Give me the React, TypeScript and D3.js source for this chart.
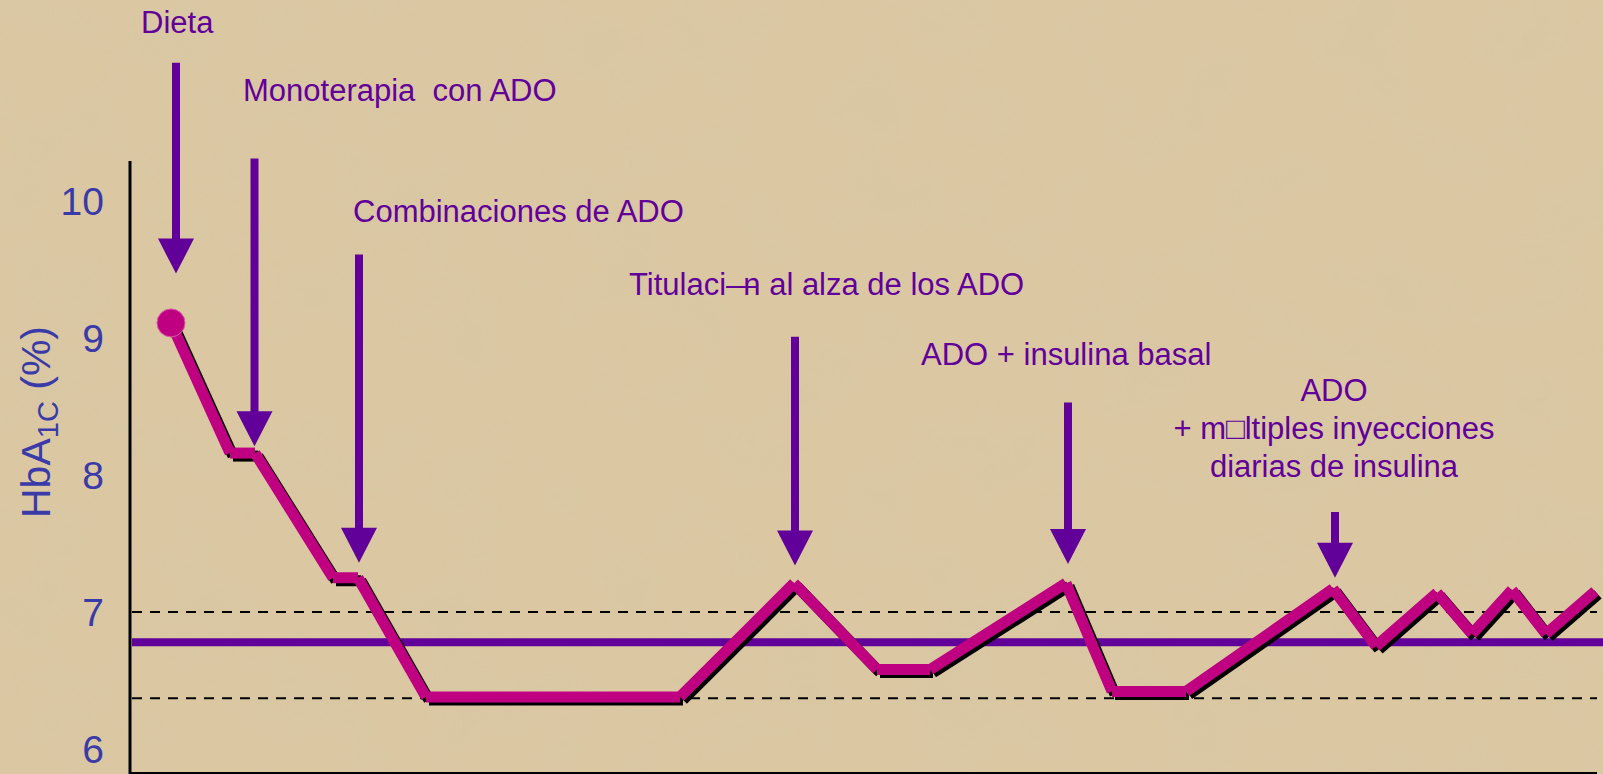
import React from 'react';
import * as d3 from 'd3';

// HbA1c course over time (arbitrary time units)
const times = [4.1, 10.0, 12.5, 20.3, 22.8, 29.6, 55.0, 66.4, 74.7, 80.0, 93.6, 98.2, 105.6, 120.3, 124.6, 130.7, 134.2, 138.2, 141.6, 146.5];
const hba1c = [9.11, 8.16, 8.16, 7.25, 7.25, 6.38, 6.38, 7.21, 6.58, 6.58, 7.21, 6.42, 6.42, 7.17, 6.75, 7.14, 6.84, 7.16, 6.84, 7.15];

const yTicks = [6, 7, 8, 9, 10];
const dashedLevels = [7, 6.37];
const targetLevel = 6.78;

// treatment steps
const stepLabels = [
  ['Dieta'],
  ['Monoterapia  con ADO'],
  ['Combinaciones de ADO'],
  ['Titulaci—n al alza de los ADO'],
  ['ADO + insulina basal'],
  ['ADO', '+ m□ltiples inyecciones', 'diarias de insulina'],
];
const arrowTimes = [4.6, 12.45, 22.9, 66.5, 93.8, 120.5];
const arrowTops = [11.01, 10.31, 9.61, 9.01, 8.53, 7.73];
const arrowTips = [9.47, 8.21, 7.36, 7.34, 7.35, 7.25];

// where each label sits (px)
const labelPos = [
  { x: 141, y: 33, anchor: 'start' },
  { x: 243, y: 101, anchor: 'start' },
  { x: 353, y: 222, anchor: 'start' },
  { x: 629, y: 295, anchor: 'start' },
  { x: 921, y: 365, anchor: 'start' },
  { x: 1334, y: 401, anchor: 'middle' },
];

const W = 1603;
const H = 774;
const FONT = '"Liberation Sans", Arial, sans-serif';
const MAGENTA = '#bf0080';
const PURPLE = '#62009a';
const BLUE = '#3a3aa8';

const x = d3.scaleLinear().domain([0, 147.3]).range([130, W]);
const y = d3.scaleLinear().domain([7, 10]).range([612, 201]);

function Label({ lines, pos }) {
  return (
    <text x={pos.x} y={pos.y} textAnchor={pos.anchor} fill={PURPLE}
      fontFamily={FONT} fontSize={31} style={{ whiteSpace: 'pre' }}>
      {lines.map((l, i) => {
        if (l.includes('—')) {
          // the original shows a broken glyph: a dash laid over the "n"
          const [a, b] = l.split('—');
          return (
            <tspan key={i}>
              {a}—<tspan dx="-0.444em">{b}</tspan>
            </tspan>
          );
        }
        return (
          <tspan key={i} x={pos.x} dy={i === 0 ? 0 : 38}>{l}</tspan>
        );
      })}
    </text>
  );
}

export default function App() {
  const pts = times.map((t, i) => [x(t), y(hba1c[i])]);
  const segs = d3.pairs(pts);
  const headH = 35;
  const headW = 36;

  return (
    <div>
      <style>{`body{margin:0;overflow:hidden}`}</style>
      <svg width={W} height={H} style={{ display: 'block' }}>
        <defs>
          <filter id="paper" x="0" y="0" width="100%" height="100%">
            <feTurbulence type="fractalNoise" baseFrequency="0.012" numOctaves="4" seed="7" />
            <feColorMatrix type="matrix"
              values="0 0 0 0 0.62  0 0 0 0 0.52  0 0 0 0 0.36  0.9 0 0 0 -0.36" />
          </filter>
        </defs>
        <rect width={W} height={H} fill="#dbc8a3" />
        <rect width={W} height={H} filter="url(#paper)" opacity={0.45} />

        {/* axes */}
        <line x1={130} x2={130} y1={161} y2={H} stroke="#000" strokeWidth={3} />
        <line x1={129} x2={1597} y1={773} y2={773} stroke="#000" strokeWidth={2} />

        {yTicks.map(t => (
          <text key={t} x={104} y={y(t)} dy="0.36em" textAnchor="end"
            fill={BLUE} fontFamily={FONT} fontSize={39}>{t}</text>
        ))}
        <text transform="translate(50,422) rotate(-90)" textAnchor="middle"
          fill={BLUE} fontFamily={FONT} fontSize={41}>
          HbA<tspan fontSize={29} dy={8}>1C</tspan><tspan dy={-8}> (%)</tspan>
        </text>

        {/* reference lines */}
        {dashedLevels.map(v => (
          <line key={v} x1={132} x2={1597} y1={y(v)} y2={y(v)}
            stroke="#000" strokeWidth={2} strokeDasharray="10 8" />
        ))}
        <line x1={132} x2={W} y1={y(targetLevel)} y2={y(targetLevel)}
          stroke={PURPLE} strokeWidth={8} />

        {/* HbA1c line with drop shadow */}
        {segs.map(([a, b], i) => (
          <g key={i}>
            <line x1={a[0] + 3} y1={a[1] + 3} x2={b[0] + 3} y2={b[1] + 3}
              stroke="#000" strokeWidth={11} />
            <line x1={a[0]} y1={a[1]} x2={b[0]} y2={b[1]}
              stroke={MAGENTA} strokeWidth={11} />
          </g>
        ))}
        <circle cx={pts[0][0]} cy={pts[0][1]} r={14} fill={MAGENTA}
          stroke="#d85aa6" strokeWidth={1} />

        {/* step arrows */}
        {arrowTimes.map((t, i) => {
          const ax = x(t);
          const top = y(arrowTops[i]);
          const tip = y(arrowTips[i]);
          return (
            <g key={i} fill={PURPLE}>
              <line x1={ax} x2={ax} y1={top} y2={tip - headH + 1}
                stroke={PURPLE} strokeWidth={8} />
              <path d={`M${ax - headW / 2},${tip - headH}L${ax + headW / 2},${tip - headH}L${ax},${tip}Z`} />
            </g>
          );
        })}

        {stepLabels.map((l, i) => (
          <Label key={i} lines={l} pos={labelPos[i]} />
        ))}
      </svg>
    </div>
  );
}
